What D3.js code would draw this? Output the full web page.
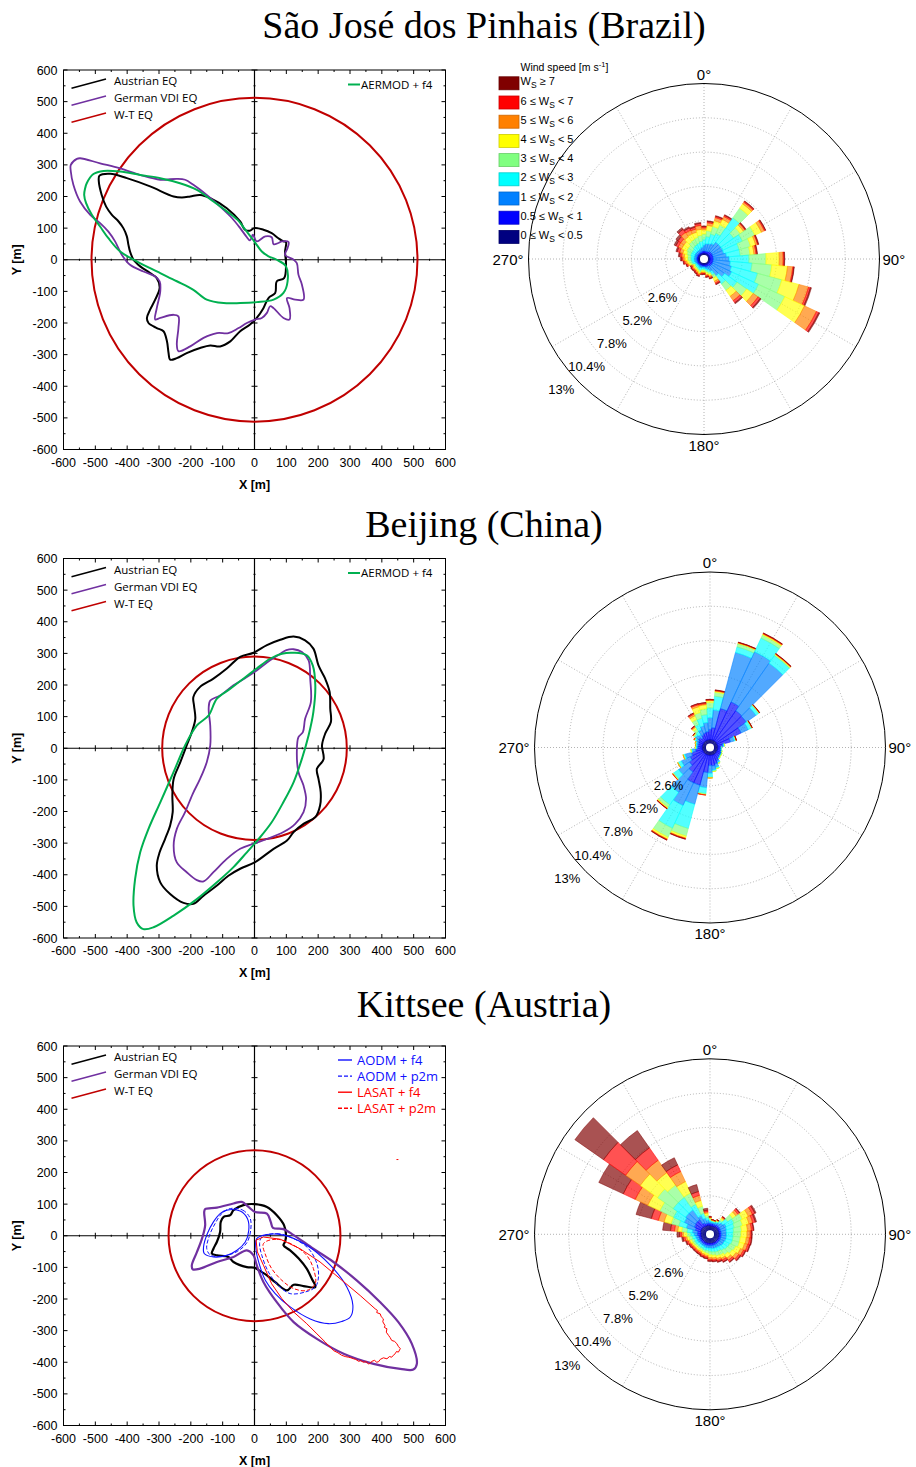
<!DOCTYPE html>
<html>
<head>
<meta charset="utf-8">
<script src="https://cdn.jsdelivr.net/npm/d3@7"></script>
<style>
  body { margin: 0; background: #fff; }
  text { font-family: "Liberation Sans", Arial, sans-serif; }
  .title { font-family: "Liberation Serif", "Times New Roman", serif; font-size: 38px; }
  .tick { font-size: 12.5px; }
  .axlab { font-size: 12.5px; font-weight: bold; }
  .leg { font-family: "Open Sans", "Liberation Sans", sans-serif; font-size: 11.5px; }
</style>
</head>
<body>
<svg id="fig" width="916" height="1467"></svg>
<script>
// ---- data ----
const titles = ["São José dos Pinhais (Brazil)", "Beijing (China)", "Kittsee (Austria)"];
const axisTicks = [-600, -500, -400, -300, -200, -100, 0, 100, 200, 300, 400, 500, 600];
const minorTicks = [-550, -450, -350, -250, -150, -50, 50, 150, 250, 350, 450, 550];

// separation distance contours [x m, y m]
const sjpAustrian = [[-487,266],[-453,272],[-401,258],[-328,232],[-254,200],[-228,197],[-202,200],[-171,205],[-139,195],[-87,163],[-45,121],[-30,95],[-15,92],[0,100],[28,95],[54,84],[75,68],[91,58],[99,56],[96,26],[99,-16],[93,-58],[70,-68],[65,-105],[44,-121],[28,-153],[7,-184],[-14,-205],[-45,-226],[-76,-258],[-108,-274],[-139,-271],[-171,-279],[-213,-295],[-244,-311],[-265,-316],[-270,-295],[-275,-258],[-286,-226],[-307,-216],[-333,-200],[-338,-184],[-328,-158],[-312,-126],[-298,-89],[-307,-58],[-328,-42],[-359,-21],[-380,0],[-391,26],[-396,47],[-401,74],[-412,100],[-427,121],[-448,142],[-466,168],[-480,205],[-489,247]];
const sjpGerman = [[-577,300],[-558,319],[-548,321],[-485,305],[-422,289],[-359,268],[-296,253],[-244,256],[-218,253],[-192,237],[-150,205],[-108,168],[-71,132],[-45,100],[-26,74],[-14,61],[-5,79],[7,58],[34,74],[54,71],[60,49],[75,53],[86,58],[107,56],[104,37],[96,16],[123,0],[133,-11],[138,-47],[149,-79],[154,-126],[128,-126],[102,-121],[110,-153],[110,-189],[91,-184],[60,-153],[49,-147],[39,-168],[23,-184],[2,-189],[-24,-200],[-50,-216],[-82,-232],[-118,-232],[-160,-247],[-202,-274],[-239,-289],[-244,-268],[-239,-216],[-239,-179],[-254,-174],[-296,-184],[-312,-189],[-307,-153],[-296,-100],[-298,-68],[-312,-53],[-349,-37],[-391,-16],[-417,16],[-438,58],[-459,89],[-485,116],[-516,142],[-548,184],[-569,237],[-577,279]];
const sjpAermod = [[-532,226],[-527,242],[-506,271],[-474,281],[-422,279],[-359,268],[-296,258],[-234,242],[-181,221],[-129,184],[-87,153],[-53,126],[-29,95],[-8,68],[7,47],[23,26],[44,11],[70,0],[99,-21],[104,-68],[91,-105],[60,-126],[7,-134],[-45,-137],[-97,-137],[-150,-126],[-192,-95],[-244,-68],[-307,-37],[-370,-5],[-422,26],[-459,68],[-485,105],[-511,142],[-529,179],[-535,205]];
const sjpWT = 512;

const bjAustrian = [[-3,302],[39,326],[81,343],[123,353],[159,341],[185,315],[201,262],[222,220],[236,178],[238,125],[240,83],[222,46],[212,9],[217,-35],[196,-65],[201,-97],[208,-139],[206,-181],[191,-218],[154,-239],[123,-265],[102,-292],[60,-318],[2,-360],[-45,-381],[-82,-403],[-118,-434],[-160,-466],[-192,-492],[-223,-489],[-265,-461],[-296,-424],[-307,-371],[-298,-329],[-281,-287],[-265,-244],[-257,-202],[-258,-149],[-254,-97],[-233,-44],[-213,9],[-197,51],[-186,93],[-190,135],[-192,162],[-171,194],[-129,220],[-87,252],[-45,289]];
const bjGerman = [[123,313],[149,304],[170,278],[175,220],[177,146],[159,93],[152,51],[138,35],[133,-12],[138,-75],[154,-118],[162,-160],[154,-202],[128,-239],[91,-265],[39,-287],[-3,-302],[-45,-318],[-87,-350],[-129,-392],[-160,-421],[-181,-417],[-213,-392],[-244,-361],[-254,-308],[-244,-255],[-218,-202],[-194,-144],[-171,-97],[-150,-44],[-139,9],[-139,72],[-144,125],[-139,151],[-108,167],[-66,199],[-24,225],[7,246],[49,278],[81,299],[100,310]];
const bjAermod = [[123,302],[164,294],[183,262],[191,199],[185,115],[170,41],[149,-33],[123,-107],[91,-170],[54,-234],[13,-287],[-24,-329],[-66,-376],[-118,-424],[-181,-477],[-254,-529],[-317,-566],[-349,-572],[-370,-551],[-380,-498],[-375,-413],[-359,-329],[-333,-255],[-296,-171],[-254,-75],[-218,9],[-181,72],[-144,104],[-118,157],[-76,188],[-35,220],[7,252],[49,283],[86,299]];
const bjWT = 290;

const ktAustrian = [[0,100],[39,91],[70,65],[93,33],[99,2],[96,-19],[91,-30],[112,-46],[139,-72],[164,-104],[180,-136],[191,-162],[154,-159],[123,-155],[102,-173],[65,-147],[39,-125],[13,-109],[0,-101],[-24,-99],[-66,-83],[-82,-67],[-118,-62],[-134,-56],[-129,-41],[-118,-19],[-108,12],[-106,44],[-97,60],[-76,65],[-66,81],[-35,97]];
const ktGerman = [[-155,84],[-118,89],[-66,102],[-40,107],[-19,91],[2,75],[39,70],[51,44],[58,25],[91,21],[123,2],[185,-41],[248,-83],[321,-141],[395,-210],[452,-273],[494,-341],[510,-405],[499,-423],[458,-421],[374,-405],[280,-373],[196,-326],[123,-273],[70,-210],[28,-146],[7,-93],[-3,-62],[-24,-46],[-66,-67],[-118,-83],[-171,-104],[-194,-106],[-197,-94],[-181,-52],[-165,-9],[-155,33],[-158,75]];
const ktAodmF4West = [[-87,81],[-45,78],[-22,54],[-18,17],[-29,-20],[-55,-46],[-87,-62],[-129,-67],[-158,-56],[-160,-35],[-148,7],[-129,44],[-108,70]];
const ktAodmF4East = [[7,-9],[39,4],[91,2],[164,-30],[238,-93],[290,-162],[309,-220],[301,-257],[274,-271],[232,-278],[175,-263],[112,-225],[65,-183],[34,-141],[16,-93],[5,-46]];
const ktAodmP2mWest = [[-76,86],[-37,81],[-14,56],[-12,17],[-24,-22],[-53,-49],[-97,-64],[-137,-62],[-150,-41],[-141,2],[-124,38],[-103,70]];
const ktAodmP2mEast = [[23,-4],[70,7],[123,-9],[170,-41],[196,-88],[201,-130],[191,-162],[159,-178],[112,-183],[75,-157],[44,-115],[23,-62],[16,-25]];
const ktLasatF4 = [[5,-14],[28,-4],[81,-11],[143,-41],[206,-83],[269,-136],[332,-189],[379,-231],[386,-236],[384,-243],[395,-247],[398,-256],[405,-263],[403,-272],[410,-284],[408,-290],[416,-294],[414,-305],[421,-315],[426,-322],[431,-331],[440,-334],[447,-341],[452,-350],[458,-357],[452,-368],[446,-366],[442,-373],[436,-378],[431,-384],[424,-382],[416,-389],[405,-386],[395,-391],[390,-398],[384,-400],[377,-394],[369,-397],[362,-404],[358,-405],[350,-398],[342,-400],[334,-395],[327,-397],[318,-391],[311,-389],[303,-386],[295,-384],[285,-382],[274,-378],[262,-370],[248,-363],[222,-336],[196,-310],[164,-278],[123,-241],[86,-199],[54,-152],[28,-93],[9,-51]];
const ktLasatP2m = [[28,-25],[70,-11],[123,-30],[164,-62],[185,-104],[191,-151],[164,-173],[123,-167],[86,-141],[54,-104],[37,-67]];
const ktLasatStray = [[446,241],[452,241]];
const ktWT = 270;

// wind roses: frequency (%) per 10 degree sector, speed classes low -> high
const directions = [0,10,20,30,40,50,60,70,80,90,100,110,120,130,140,150,160,170,180,190,200,210,220,230,240,250,260,270,280,290,300,310,320,330,340,350];
const speedColors = ["#000080","#0000ff","#0080ff","#00ffff","#80ff80","#ffff00","#ff8000","#ff0000","#800000"];
const speedLabels = [["0 \u2264 W"," < 0.5"],["0.5 \u2264 W"," < 1"],["1 \u2264 W"," < 2"],["2 \u2264 W"," < 3"],["3 \u2264 W"," < 4"],["4 \u2264 W"," < 5"],["5 \u2264 W"," < 6"],["6 \u2264 W"," < 7"],["W"," \u2265 7"]];
const ringValues = [2.6, 5.2, 7.8, 10.4, 13];
const ringLabels = ["2.6%", "5.2%", "7.8%", "10.4%", "13%"];
const compassLabels = ["0°", "90°", "180°", "270°"];

const sjpWind = [
  [0.15,0.15,0.45,0.45,0.4,0.3,0.15,0.1,0.05],
  [0.15,0.15,0.55,0.55,0.45,0.4,0.2,0.1,0.05],
  [0.15,0.15,0.6,0.75,0.6,0.45,0.25,0.1,0.05],
  [0.15,0.15,0.7,0.85,0.7,0.45,0.25,0.1,0.05],
  [0.15,0.25,0.85,2.25,0.9,0.4,0.15,0.08,0.04],
  [0.15,0.25,0.85,1.2,0.6,0.3,0.15,0.05,0.05],
  [0.15,0.25,0.85,1.65,1.05,0.55,0.25,0.08,0.04],
  [0.15,0.25,0.85,1.2,0.9,0.4,0.15,0.05,0.05],
  [0.15,0.25,1.0,1.05,0.75,0.3,0.15,0.08,0.04],
  [0.15,0.25,1.2,1.5,1.3,1.0,0.3,0.08,0.04],
  [0.15,0.25,1.3,1.65,1.5,1.2,0.4,0.08,0.04],
  [0.15,0.25,1.45,2.05,1.9,1.35,0.75,0.15,0.08],
  [0.15,0.25,1.6,2.25,2.2,1.65,1.0,0.2,0.08],
  [0.15,0.25,1.2,1.15,0.9,0.6,0.45,0.2,0.08],
  [0.15,0.25,0.85,0.75,0.6,0.55,0.4,0.2,0.08],
  [0.15,0.15,0.45,0.3,0.25,0.25,0.15,0.1,0.05],
  [0.15,0.15,0.25,0.2,0.15,0.15,0.1,0.08,0.04],
  [0.15,0.15,0.15,0.15,0.15,0.15,0.08,0.08,0.04],
  [0.15,0.1,0.1,0.15,0.1,0.1,0.08,0.05,0.04],
  [0.15,0.1,0.1,0.15,0.1,0.1,0.08,0.08,0.04],
  [0.15,0.1,0.15,0.2,0.15,0.1,0.1,0.08,0.04],
  [0.15,0.1,0.15,0.15,0.1,0.1,0.1,0.08,0.04],
  [0.15,0.1,0.1,0.15,0.1,0.1,0.08,0.08,0.04],
  [0.15,0.1,0.1,0.15,0.1,0.1,0.1,0.08,0.04],
  [0.15,0.1,0.1,0.1,0.1,0.1,0.1,0.08,0.04],
  [0.15,0.1,0.15,0.2,0.15,0.15,0.1,0.08,0.04],
  [0.15,0.1,0.2,0.2,0.2,0.15,0.15,0.1,0.04],
  [0.15,0.1,0.2,0.25,0.25,0.2,0.15,0.1,0.08],
  [0.15,0.1,0.2,0.25,0.25,0.25,0.2,0.15,0.1],
  [0.15,0.1,0.2,0.3,0.3,0.3,0.25,0.2,0.1],
  [0.15,0.1,0.2,0.3,0.4,0.4,0.3,0.2,0.15],
  [0.15,0.1,0.2,0.3,0.4,0.4,0.3,0.25,0.2],
  [0.15,0.1,0.2,0.4,0.45,0.45,0.4,0.3,0.15],
  [0.15,0.1,0.2,0.45,0.45,0.45,0.3,0.2,0.1],
  [0.15,0.1,0.25,0.45,0.45,0.4,0.25,0.15,0.08],
  [0.15,0.15,0.3,0.45,0.45,0.45,0.3,0.15,0.08]
];
const bjWind = [
  [0.3,0.75,0.9,0.75,0.4,0.15,0.04,0.04,0.02],
  [0.3,0.9,1.35,1.05,0.3,0.08,0.04,0.04,0.02],
  [0.3,2.45,4.4,0.45,0.25,0.04,0.04,0.02,0.02],
  [0.3,3.2,4.2,1.15,0.25,0.08,0.04,0.04,0.02],
  [0.3,2.8,4.4,0.7,0.08,0.04,0.04,0.02,0.02],
  [0.3,2.75,0.9,0.25,0.04,0.02,0.02,0.01,0.01],
  [0.3,2.0,0.6,0.25,0.04,0.02,0.01,0.01,0.01],
  [0.3,1.0,0.3,0.1,0.04,0.01,0.01,0.01,0.01],
  [0.3,0.35,0.1,0.05,0.02,0.01,0,0,0],
  [0.3,0.2,0.05,0.02,0.01,0,0,0,0],
  [0.3,0.2,0.05,0.03,0.01,0,0,0,0],
  [0.3,0.25,0.05,0.03,0.02,0.01,0,0,0],
  [0.3,0.3,0.06,0.03,0.02,0.01,0,0,0],
  [0.3,0.3,0.06,0.04,0.02,0.01,0,0,0],
  [0.3,0.35,0.08,0.04,0.02,0.01,0,0,0],
  [0.3,0.5,0.15,0.07,0.02,0.01,0,0,0],
  [0.3,0.7,0.25,0.1,0.03,0.01,0,0,0],
  [0.3,0.8,0.3,0.1,0.03,0.01,0,0,0],
  [0.3,0.75,0.6,0.3,0.04,0.02,0.01,0,0],
  [0.3,1.3,1.15,0.45,0.08,0.02,0.01,0.01,0],
  [0.3,2.35,1.5,1.9,0.6,0.15,0.04,0.04,0.02],
  [0.3,2.35,1.9,1.9,0.75,0.15,0.04,0.04,0.02],
  [0.3,1.65,1.9,1.15,0.25,0.08,0.02,0.02,0.01],
  [0.3,1.3,1.0,0.45,0.08,0.02,0.01,0.01,0],
  [0.3,1.05,0.75,0.25,0.04,0.01,0.01,0,0],
  [0.3,0.85,0.5,0.12,0.03,0.01,0.01,0,0],
  [0.3,0.5,0.25,0.08,0.03,0.01,0,0,0],
  [0.3,0.3,0.12,0.05,0.03,0.01,0,0,0],
  [0.3,0.3,0.12,0.05,0.03,0.01,0.01,0,0],
  [0.3,0.3,0.15,0.06,0.04,0.02,0.01,0,0],
  [0.3,0.35,0.2,0.1,0.05,0.03,0.01,0.01,0],
  [0.3,0.45,0.25,0.12,0.08,0.05,0.02,0.01,0.01],
  [0.3,0.3,0.3,0.3,0.23,0.15,0.08,0.04,0.02],
  [0.3,0.45,0.45,0.45,0.4,0.3,0.15,0.08,0.02],
  [0.3,0.55,0.55,0.6,0.45,0.45,0.15,0.08,0.02],
  [0.3,0.6,0.7,0.6,0.45,0.3,0.08,0.08,0.02]
];
const ktWind = [
  [0.35,0.15,0.15,0.12,0.1,0.07,0.05,0.03,0.02],
  [0.35,0.15,0.12,0.08,0.05,0.03,0.02,0.02,0.01],
  [0.35,0.15,0.1,0.08,0.05,0.03,0.02,0.01,0.01],
  [0.35,0.15,0.15,0.1,0.07,0.05,0.03,0.02,0.01],
  [0.4,0.15,0.2,0.2,0.15,0.1,0.08,0.05,0.03],
  [0.4,0.15,0.35,0.45,0.45,0.3,0.2,0.15,0.05],
  [0.4,0.15,0.5,0.65,0.7,0.5,0.35,0.2,0.1],
  [0.4,0.15,0.45,0.6,0.65,0.5,0.3,0.2,0.1],
  [0.4,0.15,0.4,0.55,0.6,0.45,0.3,0.15,0.05],
  [0.4,0.15,0.4,0.5,0.6,0.45,0.25,0.1,0.05],
  [0.4,0.15,0.4,0.5,0.55,0.45,0.25,0.15,0.05],
  [0.4,0.15,0.4,0.5,0.55,0.4,0.25,0.15,0.05],
  [0.4,0.15,0.35,0.45,0.5,0.4,0.25,0.15,0.05],
  [0.4,0.15,0.35,0.4,0.45,0.35,0.25,0.15,0.05],
  [0.4,0.15,0.3,0.35,0.4,0.3,0.2,0.15,0.05],
  [0.4,0.15,0.25,0.3,0.35,0.25,0.15,0.15,0.05],
  [0.4,0.15,0.25,0.3,0.3,0.2,0.15,0.1,0.05],
  [0.4,0.15,0.25,0.25,0.25,0.2,0.15,0.1,0.05],
  [0.4,0.15,0.2,0.25,0.25,0.2,0.15,0.1,0.05],
  [0.4,0.15,0.2,0.2,0.2,0.15,0.12,0.1,0.05],
  [0.4,0.15,0.2,0.2,0.15,0.15,0.12,0.1,0.05],
  [0.4,0.15,0.15,0.2,0.15,0.12,0.12,0.1,0.05],
  [0.4,0.15,0.15,0.2,0.15,0.12,0.1,0.1,0.05],
  [0.4,0.15,0.15,0.2,0.15,0.12,0.1,0.1,0.05],
  [0.4,0.15,0.2,0.2,0.15,0.12,0.1,0.1,0.05],
  [0.4,0.15,0.2,0.2,0.2,0.15,0.12,0.12,0.08],
  [0.4,0.15,0.25,0.25,0.25,0.15,0.15,0.15,0.1],
  [0.4,0.25,0.25,0.3,0.25,0.25,0.15,0.15,0.2],
  [0.4,0.25,0.4,0.4,0.4,0.3,0.25,0.3,0.6],
  [0.45,0.4,0.7,0.6,0.6,0.55,0.45,0.55,1.2],
  [0.45,0.55,0.85,0.9,1.15,1.0,1.05,1.0,2.05],
  [0.45,0.6,0.9,1.15,1.45,1.6,1.35,2.05,2.65],
  [0.45,0.6,0.9,1.15,1.15,1.15,1.15,1.15,1.6],
  [0.4,0.25,0.6,0.95,0.95,0.95,0.85,0.55,0.6],
  [0.4,0.15,0.4,0.4,0.55,0.45,0.4,0.3,0.55],
  [0.4,0.15,0.23,0.19,0.19,0.15,0.11,0.11,0.15]
];

// ---- layout ----
const svg = d3.select("#fig");
const plotLeft = 63.5, plotW = 382, plotH = 379.5;
const panelTops = [70, 558.5, 1046];
const titleBase = [37.5, 537, 1017];
const roseCenters = [[704, 259], [710, 747.5], [710, 1234.3]];
const roseR = 175.5, roseHole = 4;

const panels = [
  { curves: [
      { data: sjpAustrian, color: "#000", width: 2 },
      { data: sjpGerman, color: "#7030a0", width: 1.8 },
      { data: sjpAermod, color: "#00b050", width: 2 }],
    wt: sjpWT, wind: sjpWind },
  { curves: [
      { data: bjAustrian, color: "#000", width: 2 },
      { data: bjGerman, color: "#7030a0", width: 1.8 },
      { data: bjAermod, color: "#00b050", width: 2 }],
    wt: bjWT, wind: bjWind },
  { curves: [
      { data: ktAustrian, color: "#000", width: 2.2 },
      { data: ktGerman, color: "#7030a0", width: 2.2 },
      { data: ktAodmF4West, color: "#1010ff", width: 1.1 },
      { data: ktAodmF4East, color: "#1010ff", width: 1.1 },
      { data: ktAodmP2mWest, color: "#1010ff", width: 1, dash: "4,2" },
      { data: ktAodmP2mEast, color: "#1010ff", width: 1, dash: "4,2" },
      { data: ktLasatF4, color: "#ff0000", width: 1, linear: true },
      { data: ktLasatP2m, color: "#ff0000", width: 1, dash: "4,2" }],
    wt: ktWT, wind: ktWind }
];

titles.forEach((t, i) => {
  svg.append("text").attr("class", "title").attr("x", 484).attr("y", titleBase[i])
    .attr("text-anchor", "middle").text(t);
});

panels.forEach((p, i) => {
  const top = panelTops[i];
  const x = d3.scaleLinear().domain([-600, 600]).range([plotLeft, plotLeft + plotW]);
  const y = d3.scaleLinear().domain([-600, 600]).range([top + plotH, top]);
  const g = svg.append("g");

  // frame
  g.append("rect").attr("x", plotLeft).attr("y", top).attr("width", plotW).attr("height", plotH)
    .attr("fill", "none").attr("stroke", "#000").attr("stroke-width", 1);

  // ticks on the four sides, inward
  const tk = g.append("g").attr("stroke", "#000").attr("stroke-width", 1);
  [[axisTicks, 4], [minorTicks, 2]].forEach(([vals, len]) => {
    vals.forEach(v => {
      tk.append("line").attr("x1", x(v)).attr("x2", x(v)).attr("y1", top + plotH).attr("y2", top + plotH - len);
      tk.append("line").attr("x1", x(v)).attr("x2", x(v)).attr("y1", top).attr("y2", top + len);
      tk.append("line").attr("y1", y(v)).attr("y2", y(v)).attr("x1", plotLeft).attr("x2", plotLeft + len);
      tk.append("line").attr("y1", y(v)).attr("y2", y(v)).attr("x1", plotLeft + plotW).attr("x2", plotLeft + plotW - len);
      // ticks across the zero axes
      tk.append("line").attr("x1", x(v)).attr("x2", x(v)).attr("y1", y(0) - len + 1).attr("y2", y(0) + len - 1);
      tk.append("line").attr("y1", y(v)).attr("y2", y(v)).attr("x1", x(0) - len + 1).attr("x2", x(0) + len - 1);
    });
  });

  // zero cross
  g.append("line").attr("x1", plotLeft).attr("x2", plotLeft + plotW).attr("y1", y(0)).attr("y2", y(0))
    .attr("stroke", "#000").attr("stroke-width", 1.2);
  g.append("line").attr("x1", x(0)).attr("x2", x(0)).attr("y1", top).attr("y2", top + plotH)
    .attr("stroke", "#000").attr("stroke-width", 1.2);

  // tick labels
  axisTicks.forEach(v => {
    g.append("text").attr("class", "tick").attr("x", x(v)).attr("y", top + plotH + 17)
      .attr("text-anchor", "middle").text(v);
    g.append("text").attr("class", "tick").attr("x", plotLeft - 6).attr("y", y(v) + 4.5)
      .attr("text-anchor", "end").text(v);
  });
  g.append("text").attr("class", "axlab").attr("x", plotLeft + plotW / 2).attr("y", top + plotH + 39)
    .attr("text-anchor", "middle").text("X [m]");
  g.append("text").attr("class", "axlab")
    .attr("transform", `translate(21,${top + plotH / 2}) rotate(-90)`)
    .attr("text-anchor", "middle").text("Y [m]");

  // W-T equation circle
  g.append("ellipse").attr("cx", x(0)).attr("cy", y(0))
    .attr("rx", x(p.wt) - x(0)).attr("ry", y(0) - y(p.wt))
    .attr("fill", "none").attr("stroke", "#c00000").attr("stroke-width", 2);

  // contours
  p.curves.forEach(c => {
    const line = d3.line().x(d => x(d[0])).y(d => y(d[1]))
      .curve(c.linear ? d3.curveLinearClosed : d3.curveCatmullRomClosed.alpha(0.5));
    g.append("path").attr("d", line(c.data)).attr("fill", "none")
      .attr("stroke", c.color).attr("stroke-width", c.width)
      .attr("stroke-dasharray", c.dash || null).attr("stroke-linejoin", "round");
  });
  if (i === 2) {
    g.append("path").attr("d", d3.line().x(d => x(d[0])).y(d => y(d[1]))(ktLasatStray))
      .attr("stroke", "#ff0000").attr("stroke-width", 1);
  }

  // legend (slanted samples)
  const legItems = [["Austrian EQ", "#000"], ["German VDI EQ", "#7030a0"], ["W-T EQ", "#c00000"]];
  legItems.forEach(([name, col], k) => {
    const yy = top + 17 * k;
    g.append("line").attr("x1", plotLeft + 8).attr("y1", yy + 18.3).attr("x2", plotLeft + 42.5).attr("y2", yy + 9)
      .attr("stroke", col).attr("stroke-width", 1.5);
    g.append("text").attr("class", "leg").attr("x", plotLeft + 50.5).attr("y", yy + 15).text(name);
  });
  if (i < 2) {
    g.append("line").attr("x1", 348).attr("x2", 360).attr("y1", top + 14.5).attr("y2", top + 14.5)
      .attr("stroke", "#00b050").attr("stroke-width", 2);
    g.append("text").attr("class", "leg").attr("x", 361).attr("y", top + 18.5).text("AERMOD + f4");
  } else {
    const mods = [["AODM + f4", "#1010ff", null], ["AODM + p2m", "#1010ff", "4,2"], ["LASAT + f4", "#ff0000", null], ["LASAT + p2m", "#ff0000", "4,2"]];
    mods.forEach(([name, col, dash], k) => {
      const yy = top + 14 + 16.1 * k;
      g.append("line").attr("x1", 338).attr("x2", 352).attr("y1", yy).attr("y2", yy)
        .attr("stroke", col).attr("stroke-width", 1.4).attr("stroke-dasharray", dash);
      g.append("text").attr("x", 357).attr("y", yy + 4.8).attr("fill", col)
        .style("font-family", "'Open Sans', 'Liberation Sans', sans-serif").style("font-size", "13px").text(name);
    });
  }

  // ---- wind rose ----
  const [cx, cy] = roseCenters[i];
  const rs = d3.scaleLinear().domain([0, 13]).range([roseHole, roseR]);
  const rg = svg.append("g").attr("transform", `translate(${cx},${cy})`);

  // grid
  ringValues.slice(0, 4).forEach(v => {
    rg.append("circle").attr("r", rs(v)).attr("fill", "none")
      .attr("stroke", "#a0a0a0").attr("stroke-width", 0.8).attr("stroke-dasharray", "1,2");
  });
  d3.range(0, 360, 30).forEach(a => {
    const t = a * Math.PI / 180;
    rg.append("line").attr("x1", 0).attr("y1", 0)
      .attr("x2", roseR * Math.sin(t)).attr("y2", -roseR * Math.cos(t))
      .attr("stroke", "#a0a0a0").attr("stroke-width", 0.8).attr("stroke-dasharray", "1,2");
  });

  // stacked sectors
  const arc = d3.arc();
  p.wind.forEach((bins, s) => {
    const cum = d3.cumsum(bins);
    const a0 = (directions[s] - 5) * Math.PI / 180, a1 = (directions[s] + 5) * Math.PI / 180;
    bins.forEach((v, b) => {
      if (v <= 0) return;
      rg.append("path")
        .attr("d", arc({ innerRadius: rs(cum[b] - v), outerRadius: rs(cum[b]), startAngle: a0, endAngle: a1 }))
        .attr("fill", speedColors[b]).attr("fill-opacity", 0.68)
        .attr("stroke", speedColors[b]).attr("stroke-width", 0.5);
    });
  });
  rg.append("circle").attr("r", roseHole).attr("fill", "#fff");

  // outer circle
  rg.append("circle").attr("r", rs(13)).attr("fill", "none").attr("stroke", "#000").attr("stroke-width", 1);

  // ring labels along ~227 deg
  const la = 227.5 * Math.PI / 180;
  ringValues.forEach((v, k) => {
    const d = rs(v) + 18;
    rg.append("text").attr("x", d * Math.sin(la)).attr("y", -d * Math.cos(la)).attr("dy", "0.35em")
      .attr("text-anchor", "middle").style("font-size", "13px").text(ringLabels[k]);
  });
  // compass labels
  rg.append("text").attr("x", 0).attr("y", -roseR - 4).attr("text-anchor", "middle").style("font-size", "15px").text(compassLabels[0]);
  rg.append("text").attr("x", roseR + 3).attr("y", 5.5).attr("text-anchor", "start").style("font-size", "15px").text(compassLabels[1]);
  rg.append("text").attr("x", 0).attr("y", roseR + 16).attr("text-anchor", "middle").style("font-size", "15px").text(compassLabels[2]);
  rg.append("text").attr("x", -roseR - 5).attr("y", 5.5).attr("text-anchor", "end").style("font-size", "15px").text(compassLabels[3]);
});

// wind speed legend (first rose only)
const lg = svg.append("g");
const legTitle = lg.append("text").attr("x", 520.5).attr("y", 70.5).style("font-size", "10.5px");
legTitle.append("tspan").text("Wind speed [m s");
legTitle.append("tspan").attr("dy", -4).style("font-size", "7.5px").text("-1");
legTitle.append("tspan").attr("dy", 4).text("]");
d3.range(8, -1, -1).forEach((b, k) => {
  const yc = 83.3 + 19.2 * k;
  lg.append("rect").attr("x", 499).attr("y", yc - 6.5).attr("width", 20).attr("height", 13)
    .attr("fill", speedColors[b]).attr("stroke", d3.color(speedColors[b]).darker(0.6)).attr("stroke-width", 0.8);
  const t = lg.append("text").attr("x", 520.5).attr("y", yc + 2).style("font-size", "11px")
    .attr("xml:space", "preserve");
  t.append("tspan").text(speedLabels[b][0]);
  t.append("tspan").attr("dy", 3).style("font-size", "8.5px").text("S");
  t.append("tspan").attr("dy", -3).text(speedLabels[b][1]);
});
</script>
</body>
</html>
